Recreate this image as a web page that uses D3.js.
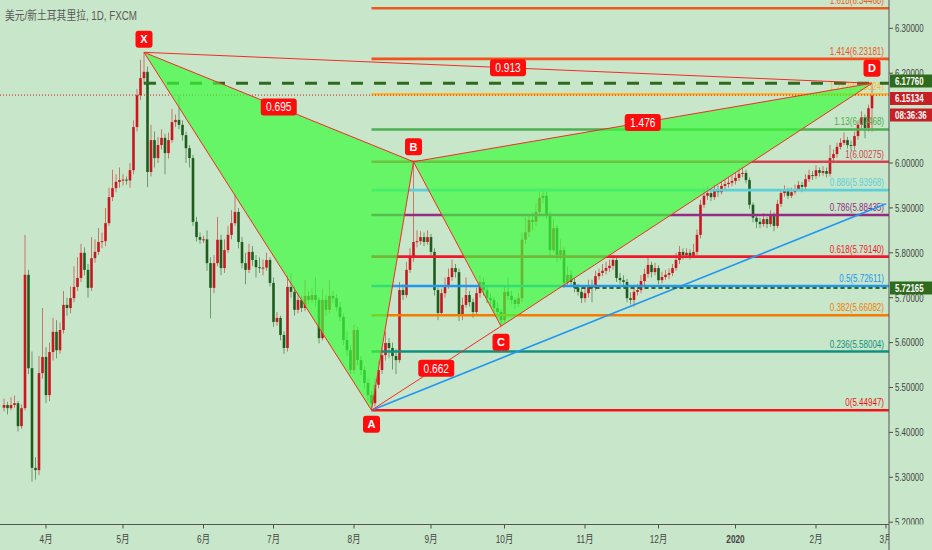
<!DOCTYPE html>
<html>
<head>
<meta charset="utf-8">
<script src="https://cdn.jsdelivr.net/npm/d3@7"></script>
<style>
  html, body { margin: 0; padding: 0; background: #c8e6c9; overflow: hidden; }
  text { font-family: "Liberation Sans", "Noto Sans CJK SC", sans-serif; }
</style>
</head>
<body>
<svg id="chart"></svg>
<script>
// USD/TRY daily bars, 2019-03-14 .. 2020-02-25 (weekdays). Open = previous close.
const firstOpen = 5.455
const closes = [
  5.461,5.454,5.461,5.465,5.414,5.454,5.751,5.543,5.321,5.316,
  5.532,5.568,5.483,5.579,5.624,5.583,5.628,5.684,5.677,5.699,
  5.724,5.744,5.800,5.762,5.722,5.788,5.802,5.824,5.826,5.866,
  5.924,5.944,5.958,5.962,5.963,5.961,5.984,6.080,6.151,6.189,
  6.203,5.980,6.051,6.011,6.040,6.056,6.022,6.051,6.091,6.096,
  6.085,6.062,6.033,6.011,5.869,5.835,5.829,5.830,5.777,5.722,
  5.777,5.829,5.766,5.806,5.840,5.866,5.891,5.824,5.777,5.762,
  5.802,5.784,5.768,5.766,5.767,5.784,5.733,5.646,5.655,5.617,
  5.588,5.724,5.713,5.673,5.695,5.677,5.704,5.695,5.706,5.695,
  5.610,5.695,5.673,5.704,5.699,5.679,5.657,5.606,5.583,5.539,
  5.628,5.561,5.539,5.510,5.483,5.465,5.506,5.539,5.572,5.599,
  5.588,5.570,5.561,5.717,5.706,5.762,5.791,5.824,5.826,5.835,
  5.824,5.835,5.802,5.717,5.666,5.710,5.728,5.746,5.766,5.757,
  5.661,5.684,5.706,5.690,5.668,5.710,5.735,5.717,5.699,5.695,
  5.677,5.668,5.650,5.713,5.704,5.695,5.686,5.699,5.829,5.846,
  5.873,5.869,5.891,5.922,5.927,5.884,5.806,5.855,5.795,5.806,
  5.733,5.751,5.735,5.722,5.713,5.699,5.710,5.728,5.722,5.748,
  5.755,5.760,5.766,5.771,5.784,5.744,5.739,5.735,5.699,5.695,
  5.713,5.717,5.737,5.753,5.773,5.757,5.766,5.739,5.746,5.751,
  5.755,5.766,5.784,5.802,5.795,5.800,5.793,5.802,5.840,5.907,
  5.927,5.933,5.924,5.940,5.935,5.949,5.953,5.956,5.960,5.967,
  5.976,5.978,5.962,5.907,5.878,5.869,5.864,5.875,5.864,5.884,
  5.860,5.909,5.933,5.940,5.927,5.935,5.942,5.951,5.947,5.964,
  5.973,5.971,5.984,5.978,5.982,5.976,6.011,6.020,6.036,6.045,
  6.051,6.040,6.038,6.060,6.085,6.102,6.078,6.122,6.15134
]
const highs = [
  5.475,5.468,5.478,5.482,5.470,5.462,5.840,5.762,5.580,5.345,
  5.570,5.677,5.590,5.600,5.655,5.650,5.645,5.715,5.700,5.725,
  5.770,5.790,5.820,5.812,5.775,5.835,5.830,5.855,5.845,5.900,
  5.945,5.985,5.975,5.990,5.975,5.970,6.000,6.095,6.165,6.230,
  6.2465,6.215,6.085,6.070,6.058,6.075,6.065,6.068,6.120,6.108,
  6.150,6.095,6.070,6.040,6.018,5.880,5.845,5.838,5.850,5.790,
  5.795,5.880,5.840,5.830,5.860,5.895,5.930,5.900,5.835,5.800,
  5.820,5.815,5.795,5.790,5.785,5.800,5.790,5.745,5.668,5.660,
  5.625,5.750,5.755,5.725,5.712,5.705,5.740,5.715,5.722,5.745,
  5.702,5.720,5.705,5.740,5.715,5.708,5.690,5.665,5.625,5.595,
  5.640,5.635,5.570,5.548,5.520,5.492,5.520,5.560,5.590,5.625,
  5.610,5.600,5.585,5.735,5.730,5.780,5.810,6.00275,5.850,5.848,
  5.845,5.850,5.842,5.810,5.722,5.720,5.745,5.765,5.785,5.775,
  5.765,5.700,5.745,5.715,5.698,5.722,5.750,5.745,5.725,5.710,
  5.702,5.690,5.675,5.725,5.745,5.715,5.700,5.710,5.845,5.880,
  5.885,5.890,5.910,5.935,5.942,5.940,5.892,5.875,5.862,5.830,
  5.812,5.770,5.760,5.745,5.730,5.722,5.725,5.740,5.740,5.760,
  5.765,5.775,5.780,5.785,5.795,5.792,5.755,5.750,5.742,5.712,
  5.725,5.730,5.750,5.765,5.790,5.780,5.778,5.772,5.758,5.762,
  5.765,5.775,5.800,5.815,5.810,5.810,5.808,5.820,5.852,5.918,
  5.945,5.948,5.942,5.952,5.950,5.960,5.965,5.968,5.972,5.978,
  5.988,5.993,5.985,5.968,5.912,5.885,5.878,5.888,5.880,5.895,
  5.890,5.918,5.940,5.950,5.945,5.945,5.952,5.960,5.958,5.975,
  5.985,5.982,5.995,5.990,5.993,5.990,6.040,6.030,6.045,6.055,
  6.068,6.058,6.050,6.070,6.095,6.115,6.108,6.130,6.1776
]
const lows = [
  5.447,5.440,5.449,5.455,5.402,5.408,5.449,5.530,5.290,5.295,
  5.305,5.520,5.465,5.470,5.560,5.565,5.575,5.620,5.660,5.665,
  5.690,5.715,5.735,5.750,5.700,5.715,5.778,5.795,5.810,5.815,
  5.860,5.915,5.935,5.945,5.950,5.952,5.945,5.975,6.070,6.140,
  6.175,5.946,5.970,5.990,6.000,6.030,5.975,6.010,6.045,6.080,
  6.075,6.050,6.000,5.990,5.860,5.825,5.820,5.822,5.760,5.654,
  5.710,5.770,5.750,5.755,5.800,5.830,5.860,5.810,5.765,5.730,
  5.755,5.770,5.745,5.755,5.750,5.760,5.725,5.635,5.638,5.605,
  5.575,5.580,5.700,5.660,5.665,5.668,5.670,5.685,5.688,5.680,
  5.598,5.605,5.660,5.665,5.688,5.670,5.648,5.595,5.570,5.530,
  5.530,5.550,5.528,5.498,5.470,5.44947,5.458,5.498,5.530,5.560,
  5.565,5.540,5.530,5.555,5.695,5.700,5.755,5.780,5.812,5.818,
  5.815,5.818,5.795,5.705,5.650,5.660,5.700,5.720,5.738,5.745,
  5.648,5.650,5.678,5.680,5.655,5.660,5.700,5.705,5.688,5.680,
  5.668,5.655,5.6365,5.645,5.695,5.685,5.675,5.680,5.690,5.820,
  5.835,5.850,5.860,5.885,5.910,5.875,5.795,5.800,5.780,5.785,
  5.722,5.725,5.725,5.712,5.705,5.688,5.690,5.700,5.690,5.715,
  5.740,5.748,5.752,5.758,5.762,5.735,5.730,5.722,5.690,5.685,
  5.680,5.705,5.710,5.728,5.745,5.745,5.750,5.730,5.732,5.740,
  5.742,5.748,5.760,5.775,5.785,5.788,5.785,5.788,5.795,5.832,
  5.900,5.918,5.915,5.918,5.925,5.930,5.942,5.945,5.948,5.952,
  5.960,5.968,5.955,5.898,5.868,5.855,5.855,5.858,5.855,5.858,
  5.848,5.855,5.902,5.925,5.920,5.922,5.930,5.938,5.935,5.942,
  5.958,5.962,5.965,5.970,5.972,5.968,5.970,6.002,6.012,6.030,
  6.040,6.032,6.028,6.030,6.052,6.078,6.055,6.070,6.070
]

// XABCD pattern pivots (bar index, price) and the ratio shown on each leg
const pivotNames = ["X", "A", "B", "C", "D"]
const pivotBars = [40, 105, 117, 142, 248]
const pivotPrices = [6.2465, 5.44947, 6.00275, 5.6365, 6.1776]
const ratioLegs = [["X", "B"], ["A", "C"], ["B", "D"], ["X", "D"]]
const ratioTexts = ["0.695", "0.662", "1.476", "0.913"]

// Fibonacci retracement drawn from A to B
const fibRatios = ["0", "0.236", "0.382", "0.5", "0.618", "0.786", "0.886", "1", "1.13", "1.272", "1.414", "1.618"]
const fibPrices = [5.44947, 5.58004, 5.66082, 5.72611, 5.79140, 5.88435, 5.93968, 6.00275, 6.07468, 6.15324, 6.23181, 6.34468]
const fibColors = ["#f5141c", "#10907e", "#f57c00", "#2196f3", "#f2182c", "#962c84", "#5ccfd9", "#d9404f", "#4caf50", "#ffb62e", "#f4511e", "#ee5a1e"]

// trend line from A through the right edge
const trendBars = [105, 252]
const trendPrices = [5.44947, 5.909]

// 6.1 sits fully under the countdown box, so the axis leaves it out
const priceTicks = [5.2, 5.3, 5.4, 5.5, 5.6, 5.7, 5.8, 5.9, 6.0, 6.2, 6.3]
const lastPrice = 6.15134
const countdown = "08:36:36"
const lineD = 6.17760
const lineMid = 5.72165
const title = "美元/新土耳其里拉, 1D, FXCM"

const W = 932, H = 550
const plotRight = 889, plotBottom = 524.5
const up = "#c8171e", down = "#1f5c1f"

const svg = d3.select("#chart").attr("width", W).attr("height", H)

// weekday calendar, one slot per bar plus the empty space to 3月
const dates = d3.timeDay.range(new Date(2019, 2, 14), new Date(2020, 2, 3))
  .filter(d => d.getDay() % 6 !== 0)

const x = d3.scaleLinear().domain([0, 252]).range([4, 886])
const y = d3.scaleLinear().domain([5.2, 6.3]).range([522.2, 28.3])

const bars = closes.map((c, i) => ({
  i, c, h: highs[i], l: lows[i],
  o: i === 0 ? firstOpen : closes[i - 1]
}))
const pivot = name => {
  const k = pivotNames.indexOf(name)
  return [x(pivotBars[k]), y(pivotPrices[k])]
}

// the reference text is narrow; squash it horizontally
function squeeze(sel, k) {
  sel.each(function () {
    const len = this.getComputedTextLength()
    d3.select(this).attr("textLength", len * k).attr("lengthAdjust", "spacingAndGlyphs")
  })
}

const defs = svg.append("defs")
defs.append("clipPath").attr("id", "plot")
  .append("rect").attr("width", plotRight).attr("height", plotBottom)
defs.append("clipPath").attr("id", "xax")
  .append("rect").attr("y", plotBottom).attr("width", plotRight).attr("height", H - plotBottom)

svg.append("rect").attr("width", W).attr("height", H).attr("fill", "#c8e6c9")

const plot = svg.append("g").attr("clip-path", "url(#plot)")

// candles
const candle = plot.append("g").selectAll("g").data(bars).join("g")
  .attr("transform", d => `translate(${x(d.i)},0)`)
candle.append("line")
  .attr("y1", d => y(d.h)).attr("y2", d => y(d.l))
  .attr("stroke", d => d.c >= d.o ? up : down)
  .attr("stroke-opacity", 0.55)
candle.append("rect")
  .attr("x", -1.3).attr("width", 2.6)
  .attr("y", d => y(Math.max(d.o, d.c)))
  .attr("height", d => Math.max(1, Math.abs(y(d.o) - y(d.c))))
  .attr("fill", d => d.c >= d.o ? up : down)

// fib levels
const fib = plot.append("g")
fib.selectAll("line").data(fibPrices).join("line")
  .attr("x1", x(pivotBars[1])).attr("x2", plotRight)
  .attr("y1", d => y(d)).attr("y2", d => y(d))
  .attr("stroke", (d, i) => fibColors[i]).attr("stroke-width", 2.6)
fib.selectAll("text").data(fibPrices).join("text")
  .attr("x", 884).attr("y", d => y(d) - 4)
  .attr("text-anchor", "end").attr("font-size", 10)
  .attr("fill", (d, i) => fibColors[i])
  .text((d, i) => `${fibRatios[i]}(${d.toFixed(5)})`)
  .call(squeeze, 0.8)

// trend line
plot.append("line")
  .attr("x1", x(trendBars[0])).attr("y1", y(trendPrices[0]))
  .attr("x2", x(trendBars[1])).attr("y2", y(trendPrices[1]))
  .attr("stroke", "#2196f3").attr("stroke-width", 1.6)

// horizontal price lines
plot.append("line")
  .attr("x1", x(pivotBars[0])).attr("x2", plotRight)
  .attr("y1", y(lineD)).attr("y2", y(lineD))
  .attr("stroke", "#2e6b1f").attr("stroke-width", 3).attr("stroke-dasharray", "12,11")
plot.append("line")
  .attr("x1", x(163)).attr("x2", plotRight)
  .attr("y1", y(lineMid)).attr("y2", y(lineMid))
  .attr("stroke", "#2e6b1f").attr("stroke-width", 2).attr("stroke-dasharray", "4,3")
plot.append("line")
  .attr("x1", 0).attr("x2", plotRight)
  .attr("y1", y(lastPrice)).attr("y2", y(lastPrice))
  .attr("stroke", up).attr("stroke-width", 1).attr("stroke-dasharray", "1,2")

// pattern fill and legs
const triangles = [["X", "A", "B"], ["B", "C", "D"]]
plot.append("g").selectAll("path").data(triangles).join("path")
  .attr("d", t => d3.line()(t.map(pivot)) + "Z")
  .attr("fill", "rgb(60,251,60)").attr("fill-opacity", 0.7)

const legs = [["X", "A"], ["A", "B"], ["B", "X"], ["B", "C"], ["C", "D"], ["D", "B"], ["X", "D"], ["A", "C"]]
plot.append("g").selectAll("line").data(legs).join("line")
  .attr("x1", l => pivot(l[0])[0]).attr("y1", l => pivot(l[0])[1])
  .attr("x2", l => pivot(l[1])[0]).attr("y2", l => pivot(l[1])[1])
  .attr("stroke", "#f52a2a").attr("stroke-width", 1)

// ratio labels at the middle of each leg
const ratio = plot.append("g").selectAll("g").data(ratioLegs).join("g")
  .attr("transform", l => {
    const a = pivot(l[0]), b = pivot(l[1])
    return `translate(${(a[0] + b[0]) / 2},${(a[1] + b[1]) / 2})`
  })
ratio.append("rect")
  .attr("x", -18).attr("y", -8.5).attr("width", 36).attr("height", 17).attr("rx", 3)
  .attr("fill", "#ff0d0d")
ratio.append("text")
  .attr("text-anchor", "middle").attr("dy", "0.36em")
  .attr("font-size", 12).attr("fill", "#fff")
  .text((l, i) => ratioTexts[i])
  .call(squeeze, 0.85)

// pivot letters
const letterOffset = { X: -13, A: 14, B: -15, C: 16, D: -15 }
const letter = plot.append("g").selectAll("g").data(pivotNames).join("g")
  .attr("transform", n => `translate(${pivot(n)[0]},${pivot(n)[1] + letterOffset[n]})`)
letter.append("rect")
  .attr("x", -8.5).attr("y", -8.5).attr("width", 17).attr("height", 17).attr("rx", 3)
  .attr("fill", "#ff0d0d")
letter.append("text")
  .attr("text-anchor", "middle").attr("dy", "0.36em")
  .attr("font-size", 11).attr("font-weight", "bold").attr("fill", "#fff")
  .text(n => n)

// title
svg.append("text")
  .attr("x", 5).attr("y", 20)
  .attr("font-size", 12).attr("fill", "#5a5a5a")
  .text(title)
  .attr("textLength", 132).attr("lengthAdjust", "spacingAndGlyphs")

// price axis (labels scaled in x so their boxes stay inside the page)
const yAxis = svg.append("g")
yAxis.selectAll("line").data(priceTicks).join("line")
  .attr("x1", plotRight).attr("x2", plotRight + 4)
  .attr("y1", d => y(d)).attr("y2", d => y(d))
  .attr("stroke", "#4d4d4d")
yAxis.selectAll("text").data(priceTicks).join("text")
  .attr("transform", d => `translate(895,${y(d)}) scale(0.72,1)`)
  .attr("dy", "0.35em")
  .attr("font-size", 11).attr("fill", "#444")
  .text(d => d.toFixed(5))

// time axis
const monthStarts = dates.map((d, i) => i).filter(i => i > 0 && dates[i].getMonth() !== dates[i - 1].getMonth())
const xAxis = svg.append("g").attr("clip-path", "url(#xax)")
xAxis.selectAll("line").data(monthStarts).join("line")
  .attr("x1", d => x(d)).attr("x2", d => x(d))
  .attr("y1", plotBottom).attr("y2", plotBottom + 4)
  .attr("stroke", "#4d4d4d")
xAxis.selectAll("text").data(monthStarts).join("text")
  .attr("x", d => x(d)).attr("y", 543)
  .attr("text-anchor", "middle").attr("font-size", 11)
  .attr("fill", "#444")
  .attr("font-weight", d => dates[d].getMonth() === 0 ? "bold" : "normal")
  .text(d => dates[d].getMonth() === 0 ? dates[d].getFullYear() : `${dates[d].getMonth() + 1}月`)
  .call(squeeze, 0.75)

// bottom strip under the price axis hides the clipped 5.2 label half
svg.append("rect").attr("x", plotRight).attr("y", plotBottom)
  .attr("width", W - plotRight).attr("height", H - plotBottom).attr("fill", "#c8e6c9")

svg.append("line").attr("x1", 0).attr("x2", plotRight)
  .attr("y1", plotBottom).attr("y2", plotBottom).attr("stroke", "#555")
svg.append("line").attr("x1", plotRight).attr("x2", plotRight)
  .attr("y1", 0).attr("y2", H).attr("stroke", "#555")

// price boxes on the axis
const boxes = [
  { top: 74.5, text: lineD.toFixed(5), fill: "#2f6b1f" },
  { top: 92, text: lastPrice.toFixed(5), fill: "#c62026" },
  { top: 108.5, text: countdown, fill: "#c62026" },
  { top: y(lineMid) - 6.5, text: lineMid.toFixed(5), fill: "#2f6b1f" }
]
const box = svg.append("g").selectAll("g").data(boxes).join("g")
  .attr("transform", b => `translate(${plotRight + 1},${b.top})`)
box.append("rect").attr("width", W - plotRight - 1).attr("height", 13).attr("fill", b => b.fill)
box.append("text")
  .attr("transform", "translate(5,6.5) scale(0.72,1)")
  .attr("dy", "0.36em")
  .attr("font-size", 11).attr("font-weight", "bold").attr("fill", "#fff")
  .text(b => b.text)
</script>
</body>
</html>
